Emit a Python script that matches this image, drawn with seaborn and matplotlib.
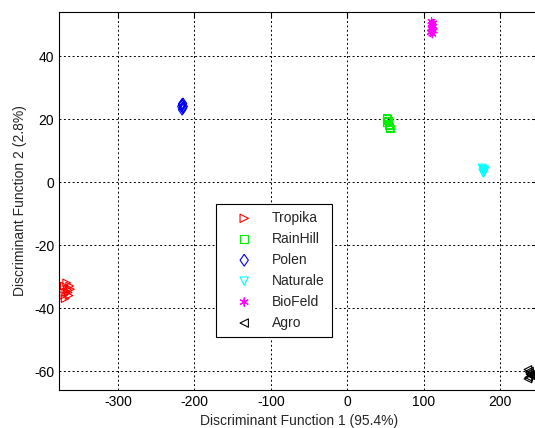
import numpy as np
import pandas as pd
import seaborn as sns
import matplotlib.pyplot as plt

# cluster points (discriminant scores)
groups = ["Tropika", "RainHill", "Polen", "Naturale", "BioFeld", "Agro"]

tropika_x = [-370, -368, -366, -364, -369, -362, -367, -365, -371, -363]
tropika_y = [-33, -35, -34, -36, -37, -34, -32, -35, -36, -33]
rainhill_x = [51, 52, 53, 52, 54, 55, 56, 54]
rainhill_y = [20.5, 20, 19.5, 19, 18, 17.5, 17, 18.5]
polen_x = [-216, -215, -217, -215, -216, -214, -216, -215]
polen_y = [24.5, 23.5, 24, 25, 23, 24, 24.8, 23.8]
naturale_x = [176, 178, 179, 177, 180, 178, 177, 179]
naturale_y = [4.5, 4, 3.5, 3, 3.8, 2.8, 4.2, 3.2]
biofeld_x = [110, 111, 112, 110, 111, 113, 109, 112, 111, 110]
biofeld_y = [51, 50, 49.5, 49, 48.5, 48, 47.5, 50.5, 47, 49.8]
agro_x = [236, 238, 239, 237, 240, 238, 236, 239]
agro_y = [-59.5, -60.5, -61, -62, -61.5, -60, -62.5, -61]

xs = [tropika_x, rainhill_x, polen_x, naturale_x, biofeld_x, agro_x]
ys = [tropika_y, rainhill_y, polen_y, naturale_y, biofeld_y, agro_y]

colors = ["#ff0000", "#00ee00", "#0000ff", "#00ffff", "#ff00ff", "#000000"]
diamond = [(0, 1), (0.7, 0), (0, -1), (-0.7, 0), (0, 1)]
markers = [">", "s", diamond, "v", (6, 2, 0), "<"]
msizes = [30, 30, 60, 30, 30, 30]

sns.set_style("white")
plt.rcParams['font.family'] = ['Liberation Sans', 'DejaVu Sans']
plt.rcParams['font.size'] = 10
plt.rcParams['axes.unicode_minus'] = False

fig = plt.figure(figsize=(5.35, 4.28), dpi=100)
ax = fig.add_axes([59/535, 38/428, 480/535, 378/428])

for name, gx, gy, c, m, s in zip(groups, xs, ys, colors, markers, msizes):
    df = pd.DataFrame({"x": gx, "y": gy})
    sns.scatterplot(data=df, x="x", y="y", marker=m, s=s, color=c, ax=ax,
                    label=name, linewidth=0.8)
    coll = ax.collections[-1]
    coll.set_facecolor("none")
    coll.set_edgecolor(c)

ax.set_xlim(-377, 250.5)
ax.set_ylim(-66, 54)
ax.set_xticks([-300, -200, -100, 0, 100, 200])
ax.set_yticks([-60, -40, -20, 0, 20, 40])
ax.grid(True, color="black", linestyle=(0, (2, 2.5)), linewidth=0.7)
ax.tick_params(direction="in", top=True, right=True, length=4, width=0.8, colors="black", labelsize=10)
for sp in ax.spines.values():
    sp.set_color("black")
    sp.set_linewidth(0.8)

ax.set_xlabel("Discriminant Function 1 (95.4%)", labelpad=4)
ax.set_ylabel("Discriminant Function 2 (2.8%)", labelpad=5)

leg = ax.legend(loc="upper left", bbox_to_anchor=(0.328, 0.492), fancybox=False,
                edgecolor="black", framealpha=1, handlelength=3.0, handletextpad=0.5,
                borderpad=0.5, labelspacing=0.5, borderaxespad=0, markerscale=1.1)
leg.get_frame().set_linewidth(0.8)
for h, c in zip(leg.legend_handles, colors):
    h.set_facecolor("none")
    h.set_edgecolor(c)

fig.savefig("out.png", dpi=100)
